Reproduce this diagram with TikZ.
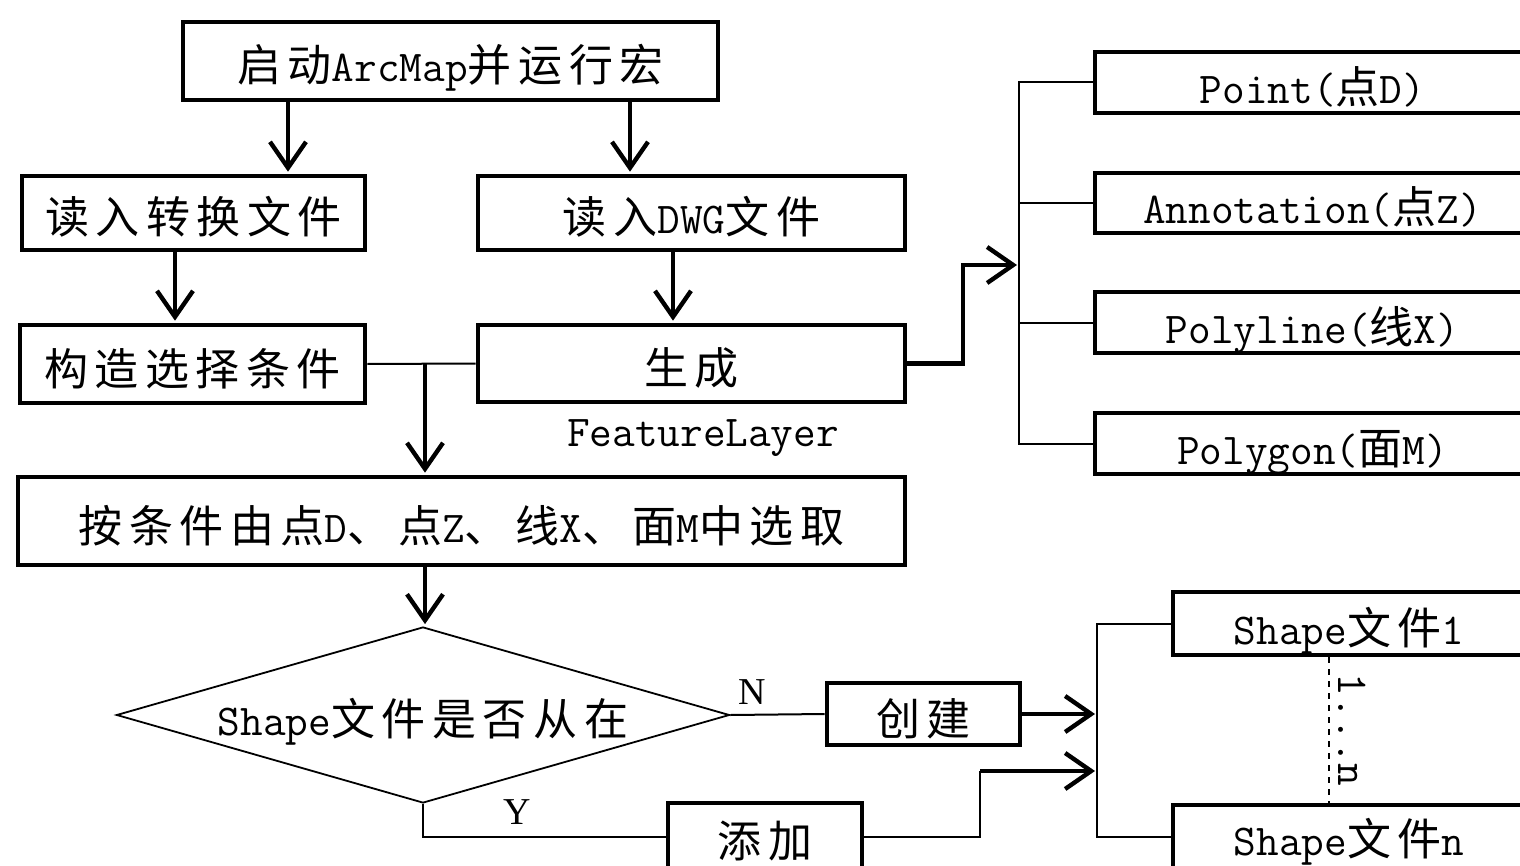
\documentclass[tikz,border=0pt]{standalone}
\usepackage{fontspec}
\newfontfamily\cjk[LetterSpace=15]{Noto Sans CJK SC}
\newfontfamily\cjktight{Noto Sans CJK SC}
\newfontfamily\yn{Liberation Serif}
\usetikzlibrary{arrows.meta,shapes.geometric,calc}
\newcommand\zh[1]{{\cjk #1}}
\newcommand\zt[1]{{\cjktight #1}}
\begin{document}
\begin{tikzpicture}[x=0.5pt,y=-0.5pt,
  txt/.style={font=\ttfamily\fontsize{22}{26}\selectfont},
  box/.style={draw,line width=2.3pt,inner sep=0pt,text height=23pt,text depth=2pt,txt},
  thinl/.style={line width=1pt},
  arr/.style={line width=2.2pt,shorten >=1pt,-{Straight Barb[length=13pt,width=18pt]}},
  lab/.style={inner sep=0pt,txt},
  ynl/.style={inner sep=0pt,font=\yn\fontsize{19}{22}\selectfont}]
\useasboundingbox (0,0) rectangle (1520,866);
% left column
\node[box,minimum width=267.5pt,minimum height=39pt] (start) at (450.5,61) {\zh{启动}ArcMap\zh{并运行宏}};
\node[box,minimum width=171.5pt,minimum height=37pt] (read1) at (193.5,213) {\zh{读入转换文件}};
\node[box,minimum width=213.5pt,minimum height=37pt] (read2) at (691.5,213) {\zh{读入}DWG\zh{文件}};
\node[box,minimum width=172.5pt,minimum height=39pt] (cond) at (192.5,364) {\zh{构造选择条件}};
\node[box,minimum width=213.5pt,minimum height=38.5pt] (gen) at (691.5,363.5) {\zh{生成}};
\node[lab] (fl) at (703,438) {FeatureLayer};
\node[box,minimum width=443.5pt,minimum height=44pt] (sel) at (461.5,521) {\zh{按条件由点}D\zh{、点}Z\zh{、线}X\zh{、面}M\zh{中选取}};
\node[draw,line width=0.9pt,shape=diamond,shape aspect=3.48,inner sep=0pt,text height=22pt,text depth=2pt,minimum width=306.5pt,minimum height=88pt,txt] (dia) at (423,715) {Shape\zh{文件是否从在}};
\node[box,minimum width=96.5pt,minimum height=31pt] (create) at (923.5,714) {\zh{创建}};
\node[box,minimum width=97pt,minimum height=33.5pt] (add) at (765,836.5) {\zh{添加}};
% right boxes
\node[box,minimum width=217.5pt,minimum height=30.5pt] (pt) at (1312.5,82.5) {Point(\zt{点}D)};
\node[box,minimum width=217.5pt,minimum height=30pt] (anno) at (1312.5,203) {Annotation(\zt{点}Z)};
\node[box,minimum width=217.5pt,minimum height=30.5pt] (poly) at (1312.5,322.5) {Polyline(\zt{线}X)};
\node[box,minimum width=217.5pt,minimum height=30.5pt] (pgon) at (1312.5,443.5) {Polygon(\zt{面}M)};
\node[box,minimum width=176pt,minimum height=31.5pt] (s1) at (1349,623.5) {Shape\zh{文件}1};
\node[box,minimum width=176pt,minimum height=31.5pt,text height=21pt] (sn) at (1349,836.5) {Shape\zh{文件}n};
% helper coordinates
\coordinate (a1) at (288,0);
\coordinate (a2) at (630,0);
\coordinate (a3) at (175,0);
\coordinate (a4) at (673,0);
\coordinate (a5) at (425,0);
\coordinate (b1) at (1019,265);
\coordinate (k1) at (963,265);
\coordinate (b2) at (1097,713);
\coordinate (k2) at (980,771);
\coordinate (d) at (1329,0);
% connectors
\draw[arr] (start.south -| a1) -- (read1.north -| a1);
\draw[arr] (start.south -| a2) -- (read2.north -| a2);
\draw[arr] (read1.south -| a3) -- (cond.north -| a3);
\draw[arr] (read2.south -| a4) -- (gen.north -| a4);
\draw[thinl] (cond.east) -- (gen.west);
\draw[arr] (cond.east -| a5) -- (sel.north -| a5);
\draw[arr] (sel.south -| a5) -- (dia.north -| a5);
\draw[arr] (gen.east) -| (k1) -- (b1);
\draw[thinl] (pt.west) -| (b1 |- pgon.west) -- (pgon.west);
\draw[thinl] (anno.west) -- (anno.west -| b1);
\draw[thinl] (poly.west) -- (poly.west -| b1);
\draw[thinl] (dia.east) -- (create.west);
\node[ynl] (nl) at (752,692) {N};
\draw[thinl] (dia.south) |- (add.west);
\node[ynl] (yl) at (517,812) {Y};
\draw[arr] (create.east) -- (create.east -| b2);
\draw[thinl] (add.east) -| (k2);
\draw[arr] (k2) -- (k2 -| b2);
\draw[thinl] (s1.west) -| (b2 |- sn.west) -- (sn.west);
\draw[dashed,line width=0.9pt] (s1.south -| d) -- (sn.north -| d);
\node[lab,rotate=-90] (rng) at (1352,730) {1...n};
\end{tikzpicture}
\end{document}
